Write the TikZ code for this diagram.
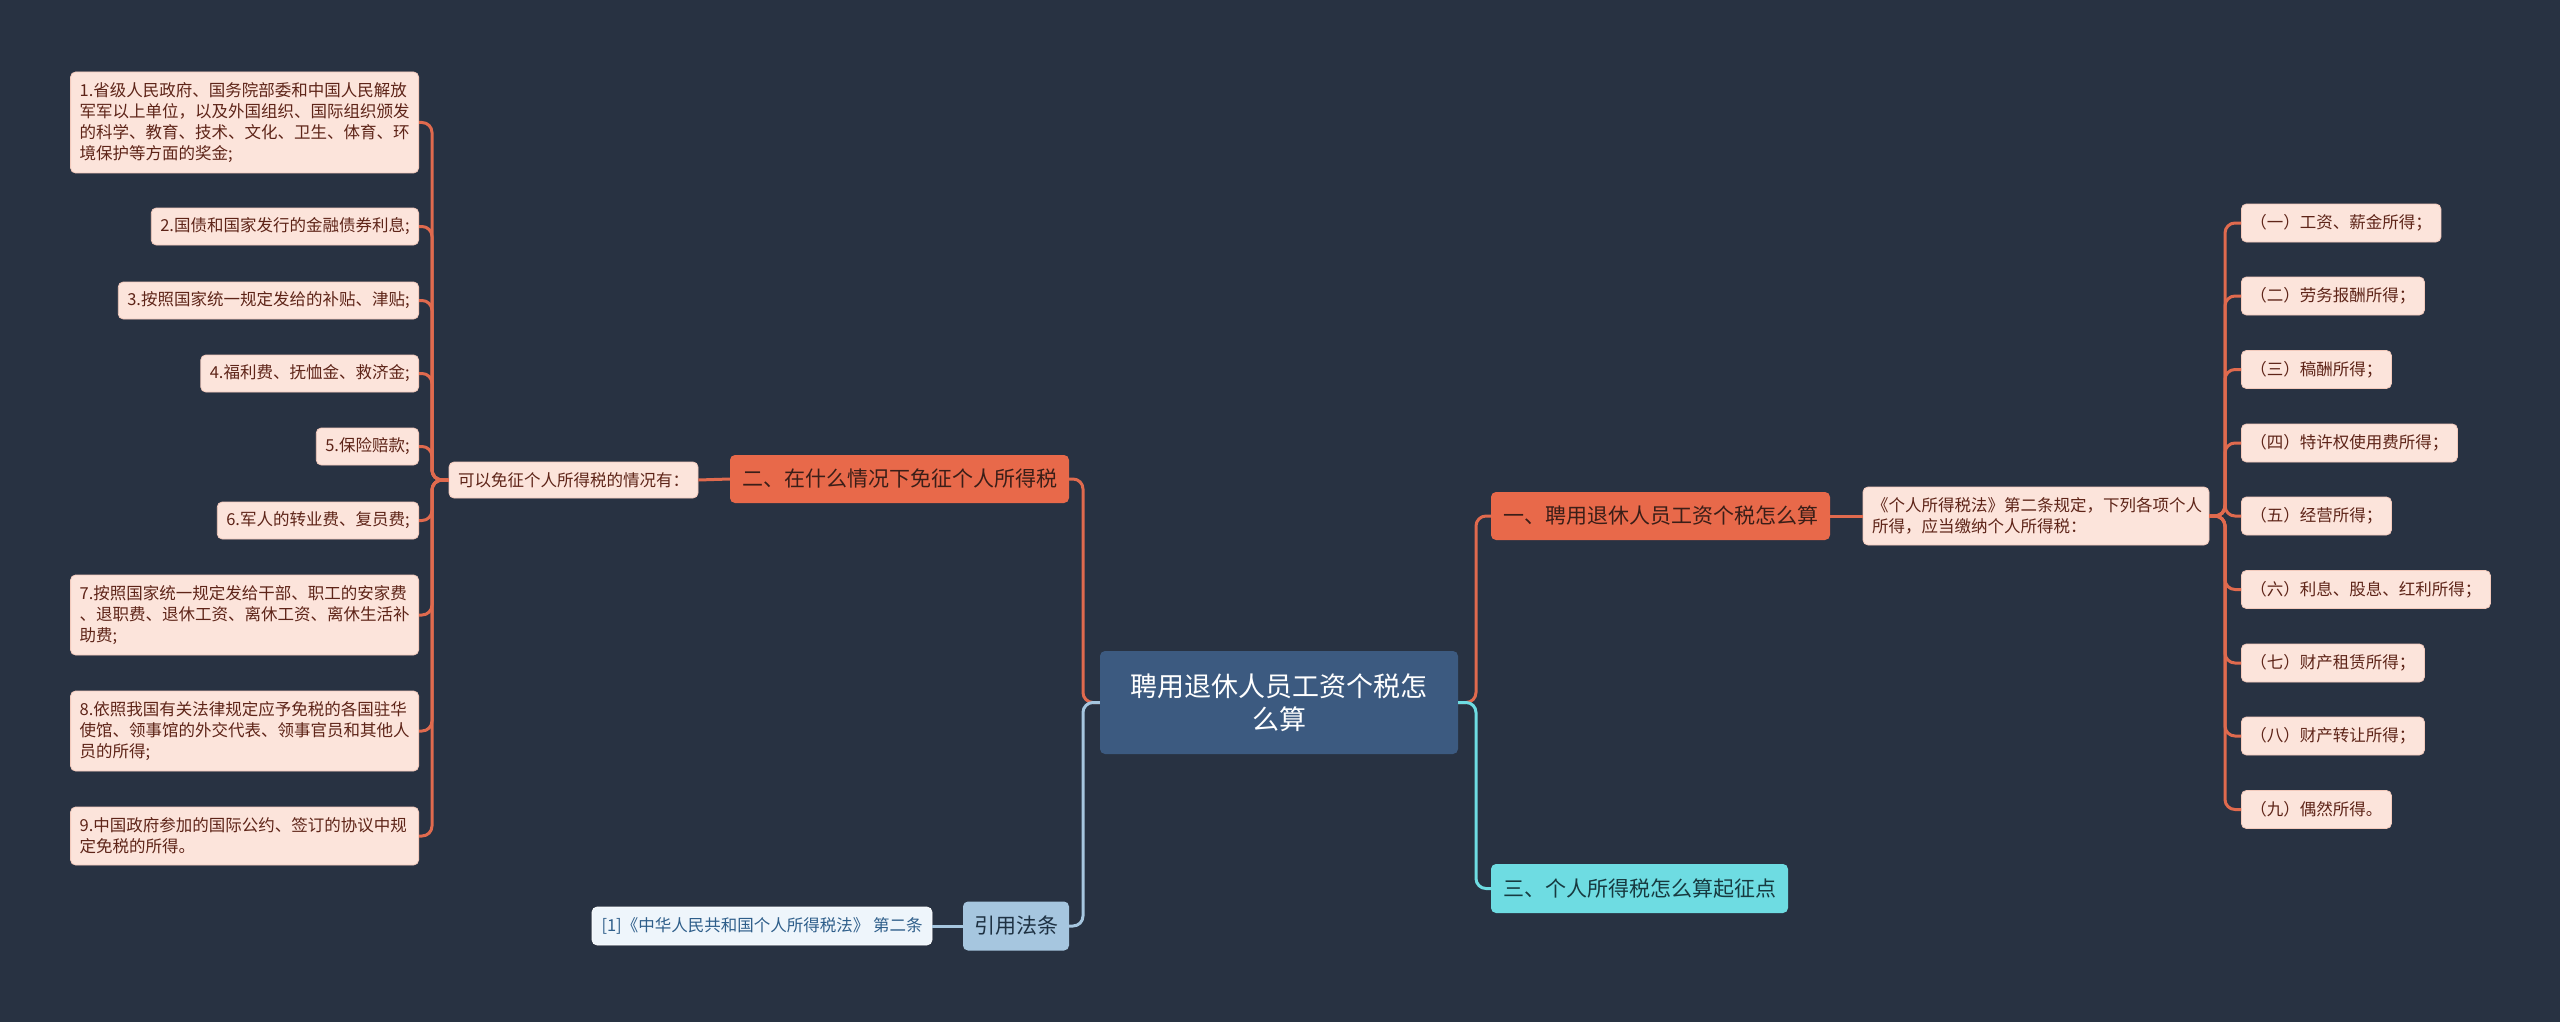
\documentclass[tikz,border=0pt]{standalone}
\usepackage{fontspec}
\setmainfont{Noto Sans CJK SC}
\definecolor{bg}{HTML}{283242}
\definecolor{orangefill}{HTML}{E8694A}
\definecolor{orangeline}{HTML}{E06A4E}
\definecolor{darktext}{HTML}{3A1E18}
\definecolor{pinkfill}{HTML}{FCE4DB}
\definecolor{pinkline}{HTML}{F3CABC}
\definecolor{pinktext}{HTML}{5E2418}
\definecolor{centerfill}{HTML}{3C5A80}
\definecolor{cyanfill}{HTML}{6EDCE2}
\definecolor{cyantext}{HTML}{173A40}
\definecolor{bluefill}{HTML}{A6C6DF}
\definecolor{bluetext}{HTML}{1E3142}
\definecolor{paleblue}{HTML}{EEF5FB}
\definecolor{paletext}{HTML}{2E5E8A}
\newcommand\fsz[2]{\fontsize{#1}{#2}\selectfont}
\tikzset{
  base/.style={rounded corners=5pt, inner ysep=0pt},
  pinkbox/.style={base, draw=pinkline, line width=0.8pt, fill=pinkfill, text=pinktext,
    font=\fsz{16.5}{21}, inner xsep=9pt, minimum height=37pt},
  pinkmulti/.style={pinkbox, text width=330pt, align=left},
  orangebox/.style={base, fill=orangefill, text=darktext, font=\fsz{21}{25},
    minimum width=339pt, minimum height=48pt},
  centerbox/.style={base, fill=centerfill, text=white, font=\fsz{27}{33},
    minimum width=358pt, minimum height=103pt, align=center},
  cyanbox/.style={base, fill=cyanfill, text=cyantext, font=\fsz{21}{25},
    minimum width=297pt, minimum height=49pt},
  bluebox/.style={base, fill=bluefill, text=bluetext, font=\fsz{21}{25},
    minimum width=106pt, minimum height=49pt},
  paleblock/.style={base, draw=white, line width=0.6pt, fill=paleblue, text=paletext,
    font=\fsz{16.5}{21}, minimum width=340pt, minimum height=38pt},
  oline/.style={draw=orangeline, line width=3pt, rounded corners=10pt},
  bline/.style={draw=bluefill, line width=3pt, rounded corners=10pt},
  cline/.style={draw=cyanfill, line width=3pt, rounded corners=10pt},
}
\begin{document}
\begin{tikzpicture}[x=1pt, y=-1pt]
\fill[bg] (0,0) rectangle (2560,1022);
\useasboundingbox (0,0) rectangle (2560,1022);

% trunk coordinates
\coordinate (tL) at (432,0);
\coordinate (tC) at (1083,0);
\coordinate (tD) at (1476,0);
\coordinate (tR) at (2225,0);

% center
\node[centerbox] (root) at (1279,702.5) {聘用退休人员工资个税怎\\么算};

% left branch
\node[orangebox] (b2) at (899.5,479) {二、在什么情况下免征个人所得税};
\node[pinkbox, minimum height=36pt] (b2a) at (573.5,480) {可以免征个人所得税的情况有：};

\node[pinkmulti, anchor=east, minimum height=101pt] (l1) at (419,122.5) {1.省级人民政府、国务院部委和中国人民解放\\军军以上单位，以及外国组织、国际组织颁发\\的科学、教育、技术、文化、卫生、体育、环\\境保护等方面的奖金;};
\node[pinkbox, anchor=east] (l2) at (419,226.5) {2.国债和国家发行的金融债券利息;};
\node[pinkbox, anchor=east] (l3) at (419,300.5) {3.按照国家统一规定发给的补贴、津贴;};
\node[pinkbox, anchor=east] (l4) at (419,373.5) {4.福利费、抚恤金、救济金;};
\node[pinkbox, anchor=east] (l5) at (419,446.5) {5.保险赔款;};
\node[pinkbox, anchor=east] (l6) at (419,520.5) {6.军人的转业费、复员费;};
\node[pinkmulti, anchor=east, minimum height=80pt] (l7) at (419,615) {7.按照国家统一规定发给干部、职工的安家费\\、退职费、退休工资、离休工资、离休生活补\\助费;};
\node[pinkmulti, anchor=east, minimum height=80pt] (l8) at (419,731) {8.依照我国有关法律规定应予免税的各国驻华\\使馆、领事馆的外交代表、领事官员和其他人\\员的所得;};
\node[pinkmulti, anchor=east, minimum height=58pt] (l9) at (419,836) {9.中国政府参加的国际公约、签订的协议中规\\定免税的所得。};

% citation branch
\node[bluebox] (cite) at (1016,926) {引用法条};
\node[paleblock] (cite1) at (762,926) {[1]《中华人民共和国个人所得税法》 第二条};

% right branch
\node[orangebox] (b1) at (1660.5,516) {一、聘用退休人员工资个税怎么算};
\node[pinkmulti, text width=328pt, minimum height=58pt] (b1a) at (2036,516) {《个人所得税法》第二条规定，下列各项个人\\所得，应当缴纳个人所得税：};

\node[pinkbox, anchor=west, minimum height=38pt] (r1) at (2241,223) {（一）工资、薪金所得；};
\node[pinkbox, anchor=west, minimum height=38pt] (r2) at (2241,296) {（二）劳务报酬所得；};
\node[pinkbox, anchor=west, minimum height=38pt] (r3) at (2241,369.5) {（三）稿酬所得；};
\node[pinkbox, anchor=west, minimum height=38pt] (r4) at (2241,443) {（四）特许权使用费所得；};
\node[pinkbox, anchor=west, minimum height=38pt] (r5) at (2241,516) {（五）经营所得；};
\node[pinkbox, anchor=west, minimum height=38pt] (r6) at (2241,589.5) {（六）利息、股息、红利所得；};
\node[pinkbox, anchor=west, minimum height=38pt] (r7) at (2241,663) {（七）财产租赁所得；};
\node[pinkbox, anchor=west, minimum height=38pt] (r8) at (2241,736) {（八）财产转让所得；};
\node[pinkbox, anchor=west, minimum height=38pt] (r9) at (2241,809.5) {（九）偶然所得。};

\node[cyanbox] (b3) at (1639.5,888.5) {三、个人所得税怎么算起征点};

% connectors: root
\draw[oline] (root.west) -- (root.west -| tC) |- (b2.east);
\draw[bline] (root.west) -- (root.west -| tC) |- (cite.east);
\draw[oline] (root.east) -- (root.east -| tD) |- (b1.west);
\draw[cline] (root.east) -- (root.east -| tD) |- (b3.west);

% left
\draw[oline] (b2.west) -- (b2a.east);
\foreach \c in {l1,l2,l3,l4,l5,l6,l7,l8,l9}
  \draw[oline] (b2a.west) -- (b2a.west -| tL) |- (\c.east);

% citation
\draw[bline] (cite.west) -- (cite1.east);

% right
\draw[oline] (b1.east) -- (b1a.west);
\foreach \c in {r1,r2,r3,r4,r5,r6,r7,r8,r9}
  \draw[oline] (b1a.east) -- (b1a.east -| tR) |- (\c.west);
\end{tikzpicture}
\end{document}
